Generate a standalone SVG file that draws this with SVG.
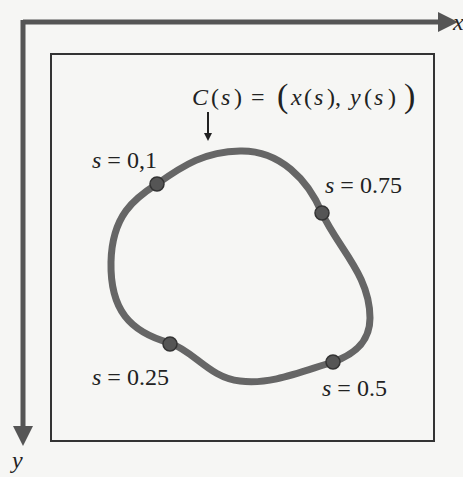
<svg xmlns="http://www.w3.org/2000/svg" width="463" height="477" viewBox="0 0 463 477">
<style>
.t{font-family:"Liberation Serif","Times New Roman",serif;font-size:24px;fill:#222}
.i{font-style:italic}
.ax{stroke:#555;stroke-width:5;fill:none}
.dot{fill:#555;stroke:#333;stroke-width:1.5}
</style>
<defs>
<marker id="ah" markerWidth="4" markerHeight="4" refX="1" refY="2" orient="auto" markerUnits="strokeWidth">
<path d="M0,0 L4,2 L0,4 Z" fill="#555"/>
</marker>
<marker id="sa" markerWidth="8" markerHeight="8" refX="1" refY="4" orient="auto" markerUnits="userSpaceOnUse">
<path d="M0,0 L8,4 L0,8 Z" fill="#222"/>
</marker>
</defs>
<rect width="463" height="477" fill="#f6f6f4"/>
<g id="connectors">
<path class="ax" d="M23,22 H443" marker-end="url(#ah)"/>
<path class="ax" d="M23,20 V431" marker-end="url(#ah)"/>
<path d="M208,112 V134" stroke="#222" stroke-width="2" marker-end="url(#sa)"/>
</g>
<g id="axis-labels">
<text class="t i" x="453" y="30">x</text>
<text class="t i" x="12" y="468" font-size="22">y</text>
</g>
<g id="frame">
<rect x="51" y="54" width="383" height="387" fill="none" stroke="#333" stroke-width="2"/>
</g>
<g id="curve">
<path d="M157,184 C185,164 205,152 240,151 C280,150 308,180 322,213 C338,248 370,275 370,318 C370,345 350,356 333,362 C300,372 270,385 240,381 C210,378 195,352 170,343 C130,332 110,310 111,262 C112,215 135,198 157,184 Z" fill="none" stroke="#666" stroke-width="7" stroke-linejoin="round"/>
</g>
<g id="p01"><circle class="dot" cx="157" cy="184" r="7"/><text class="t" x="92" y="168"><tspan class="i">s</tspan> = 0,1</text></g>
<g id="p075"><circle class="dot" cx="322" cy="213" r="7"/><text class="t" x="325" y="193"><tspan class="i">s</tspan> = 0.75</text></g>
<g id="p025"><circle class="dot" cx="170" cy="344" r="7"/><text class="t" x="92" y="385"><tspan class="i">s</tspan> = 0.25</text></g>
<g id="p05"><circle class="dot" cx="333" cy="362" r="7"/><text class="t" x="322" y="396"><tspan class="i">s</tspan> = 0.5</text></g>
<g id="label"><text class="t" y="105" font-size="26"><tspan x="192" class="i">C</tspan><tspan x="211">(</tspan><tspan x="221" class="i">s</tspan><tspan x="234">)</tspan><tspan x="251">=</tspan><tspan x="277" font-size="34" y="107">(</tspan><tspan x="291" y="105" class="i">x</tspan><tspan x="304">(</tspan><tspan x="314" class="i">s</tspan><tspan x="327">),</tspan><tspan x="350" class="i">y</tspan><tspan x="364">(</tspan><tspan x="374" class="i">s</tspan><tspan x="388">)</tspan><tspan x="404" font-size="34" y="107">)</tspan></text></g>
</svg>
